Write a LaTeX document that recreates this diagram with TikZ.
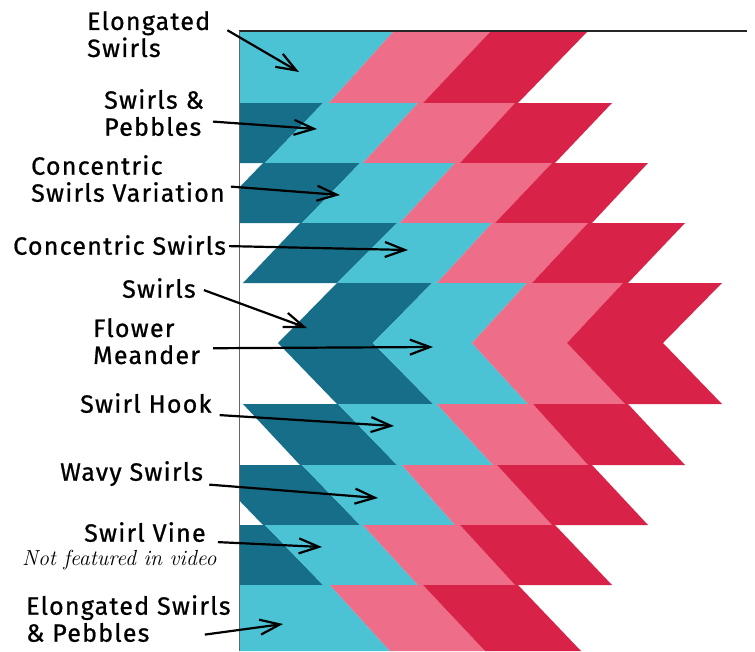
\documentclass[tikz,border=0pt]{standalone}
\usepackage{fontspec}
\usepackage{xcolor}
\usepackage{tikz}
\usetikzlibrary{calc, arrows.meta}
\newfontfamily\labelfont{Fira Sans}[LetterSpace=5, FakeBold=0.8]
\definecolor{quiltteal}{HTML}{176E88}
\definecolor{quiltcyan}{HTML}{4BC3D5}
\definecolor{quiltpink}{HTML}{EE6D88}
\definecolor{quiltred}{HTML}{D92248}
\colorlet{framegray}{black!60}
\newcommand{\size}{\fontsize{25}{27}\selectfont}
\tikzset{
%     text
    pattname/.style = {font=\labelfont\size, align=left, inner sep=0pt, anchor=north west},
    remark/.style = {font=\fontsize{21.8}{22}\selectfont\itshape, inner sep=0pt, anchor=north west},
%     connectors
    arrow/.style = {-{Straight Barb[length=20pt, width=15pt]}, line width=2.2pt},
}

\begin{document}
\begin{tikzpicture}[x=1pt, y=-1pt]
        \useasboundingbox (0,0) rectangle (755,651);
        % Quilt
        \begin{scope}
        \clip (240,32) rectangle (755,651);
        % Row 1
        \fill[quiltcyan] (240,32) -- (393,32) -- (329,103) -- (240,103) -- cycle;
        \fill[quiltpink] (393,32) -- (490,32) -- (423,103) -- (329,103) -- cycle;
        \fill[quiltred] (490,32) -- (587,32) -- (518,103) -- (423,103) -- cycle;
        % Row 2
        \fill[quiltteal] (200,103) -- (323,103) -- (265,163) -- (200,163) -- cycle;
        \fill[quiltcyan] (323,103) -- (418,103) -- (363,163) -- (265,163) -- cycle;
        \fill[quiltpink] (418,103) -- (515,103) -- (460,163) -- (363,163) -- cycle;
        \fill[quiltred] (515,103) -- (612,103) -- (555,163) -- (460,163) -- cycle;
        % Row 3
        \fill[quiltteal] (263,163) -- (360,163) -- (302,223) -- (205,223) -- cycle;
        \fill[quiltcyan] (360,163) -- (455,163) -- (400,223) -- (302,223) -- cycle;
        \fill[quiltpink] (455,163) -- (552,163) -- (495,223) -- (400,223) -- cycle;
        \fill[quiltred] (552,163) -- (648,163) -- (592,223) -- (495,223) -- cycle;
        % Row 4
        \fill[quiltteal] (300,223) -- (397,223) -- (337,283) -- (243,283) -- cycle;
        \fill[quiltcyan] (397,223) -- (492,223) -- (437,283) -- (337,283) -- cycle;
        \fill[quiltpink] (492,223) -- (588,223) -- (532,283) -- (437,283) -- cycle;
        \fill[quiltred] (588,223) -- (685,223) -- (628,283) -- (532,283) -- cycle;
        % Rows 5 and 6 (chevron)
        \fill[quiltteal] (337,283) -- (432,283) -- (373,343) -- (433,404) -- (337,404) -- (278,343) -- cycle;
        \fill[quiltcyan] (432,283) -- (527,283) -- (472,343) -- (528,404) -- (433,404) -- (373,343) -- cycle;
        \fill[quiltpink] (527,283) -- (623,283) -- (567,343) -- (625,404) -- (528,404) -- (472,343) -- cycle;
        \fill[quiltred] (623,283) -- (722,283) -- (663,343) -- (722,404) -- (625,404) -- (567,343) -- cycle;
        % Row 7
        \fill[quiltteal] (243,404) -- (338,404) -- (397,465) -- (300,465) -- cycle;
        \fill[quiltcyan] (338,404) -- (437,404) -- (493,465) -- (397,465) -- cycle;
        \fill[quiltpink] (437,404) -- (533,404) -- (588,465) -- (493,465) -- cycle;
        \fill[quiltred] (533,404) -- (628,404) -- (685,465) -- (588,465) -- cycle;
        % Row 8
        \fill[quiltteal] (205,465) -- (302,465) -- (360,525) -- (263,525) -- cycle;
        \fill[quiltcyan] (302,465) -- (402,465) -- (455,525) -- (360,525) -- cycle;
        \fill[quiltpink] (402,465) -- (497,465) -- (552,525) -- (455,525) -- cycle;
        \fill[quiltred] (497,465) -- (592,465) -- (648,525) -- (552,525) -- cycle;
        % Row 9
        \fill[quiltteal] (200,525) -- (265,525) -- (323,585) -- (200,585) -- cycle;
        \fill[quiltcyan] (265,525) -- (363,525) -- (418,585) -- (323,585) -- cycle;
        \fill[quiltpink] (363,525) -- (460,525) -- (515,585) -- (418,585) -- cycle;
        \fill[quiltred] (460,525) -- (555,525) -- (612,585) -- (515,585) -- cycle;
        % Row 10
        \fill[quiltcyan] (240,585) -- (330,585) -- (390,651) -- (240,651) -- cycle;
        \fill[quiltpink] (330,585) -- (423,585) -- (485,651) -- (390,651) -- cycle;
        \fill[quiltred] (423,585) -- (518,585) -- (581,651) -- (485,651) -- cycle;
        \end{scope}
        % Frame
        \draw[line width=1.5pt, black!85] (239,31) -- (747,31);
        \draw[line width=1pt, framegray] (239,31) -- (239,651);

        % Pattern names
        \node (elong) [pattname] at (87,11) {Elongated\\Swirls};
        \node (swpeb) [pattname] at (104,89) {Swirls \&\\Pebbles};
        \node (concvar) [pattname] at (31,155) {Concentric\\Swirls Variation};
        \node (conc) [pattname] at (13,235) {Concentric Swirls};
        \node (swirls) [pattname] at (122,278) {Swirls};
        \node (flower) [pattname] at (93,318) {Flower\\Meander};
        \node (hook) [pattname] at (80,393) {Swirl Hook};
        \node (wavy) [pattname] at (60,461) {Wavy Swirls};
        \node (vine) [pattname] at (84,522) {Swirl Vine};
        \node (note) [remark] at (22,550) {Not featured in video};
        \node (elpeb) [pattname] at (26,595) {Elongated Swirls\\\& Pebbles};
        % Where each pattern goes
        \coordinate (elongtip) at (299,72);
        \coordinate (swpebtip) at (317,129);
        \coordinate (concvartip) at (340,195);
        \coordinate (conctip) at (408,250);
        \coordinate (swirlstip) at (307,328);
        \coordinate (flowertip) at (433,347);
        \coordinate (hooktip) at (394,426);
        \coordinate (wavytip) at (378,498);
        \coordinate (vinetip) at (322,547);
        \coordinate (elpebtip) at (283,624);
        % Arrows
        \draw[arrow] ($(elong.east) + (17,-4)$) -- (elongtip);
        \draw[arrow] ($(swpeb.east) + (9,9)$) -- (swpebtip);
        \draw[arrow] ($(concvar.east) + (6,8)$) -- (concvartip);
        \draw[arrow] ($(conc.east) + (3,1)$) -- (conctip);
        \draw[arrow] ($(swirls.east) + (8,2)$) -- (swirlstip);
        \draw[arrow] ($(flower.east) + (13,7)$) -- (flowertip);
        \draw[arrow] ($(hook.east) + (8,12)$) -- (hooktip);
        \draw[arrow] ($(wavy.east) + (6,11)$) -- (wavytip);
        \draw[arrow] ($(vine.east) + (12,10)$) -- (vinetip);
        \draw[arrow] ($(elpeb.east) + (-26,16)$) -- (elpebtip);
    \end{tikzpicture}
\end{document}
